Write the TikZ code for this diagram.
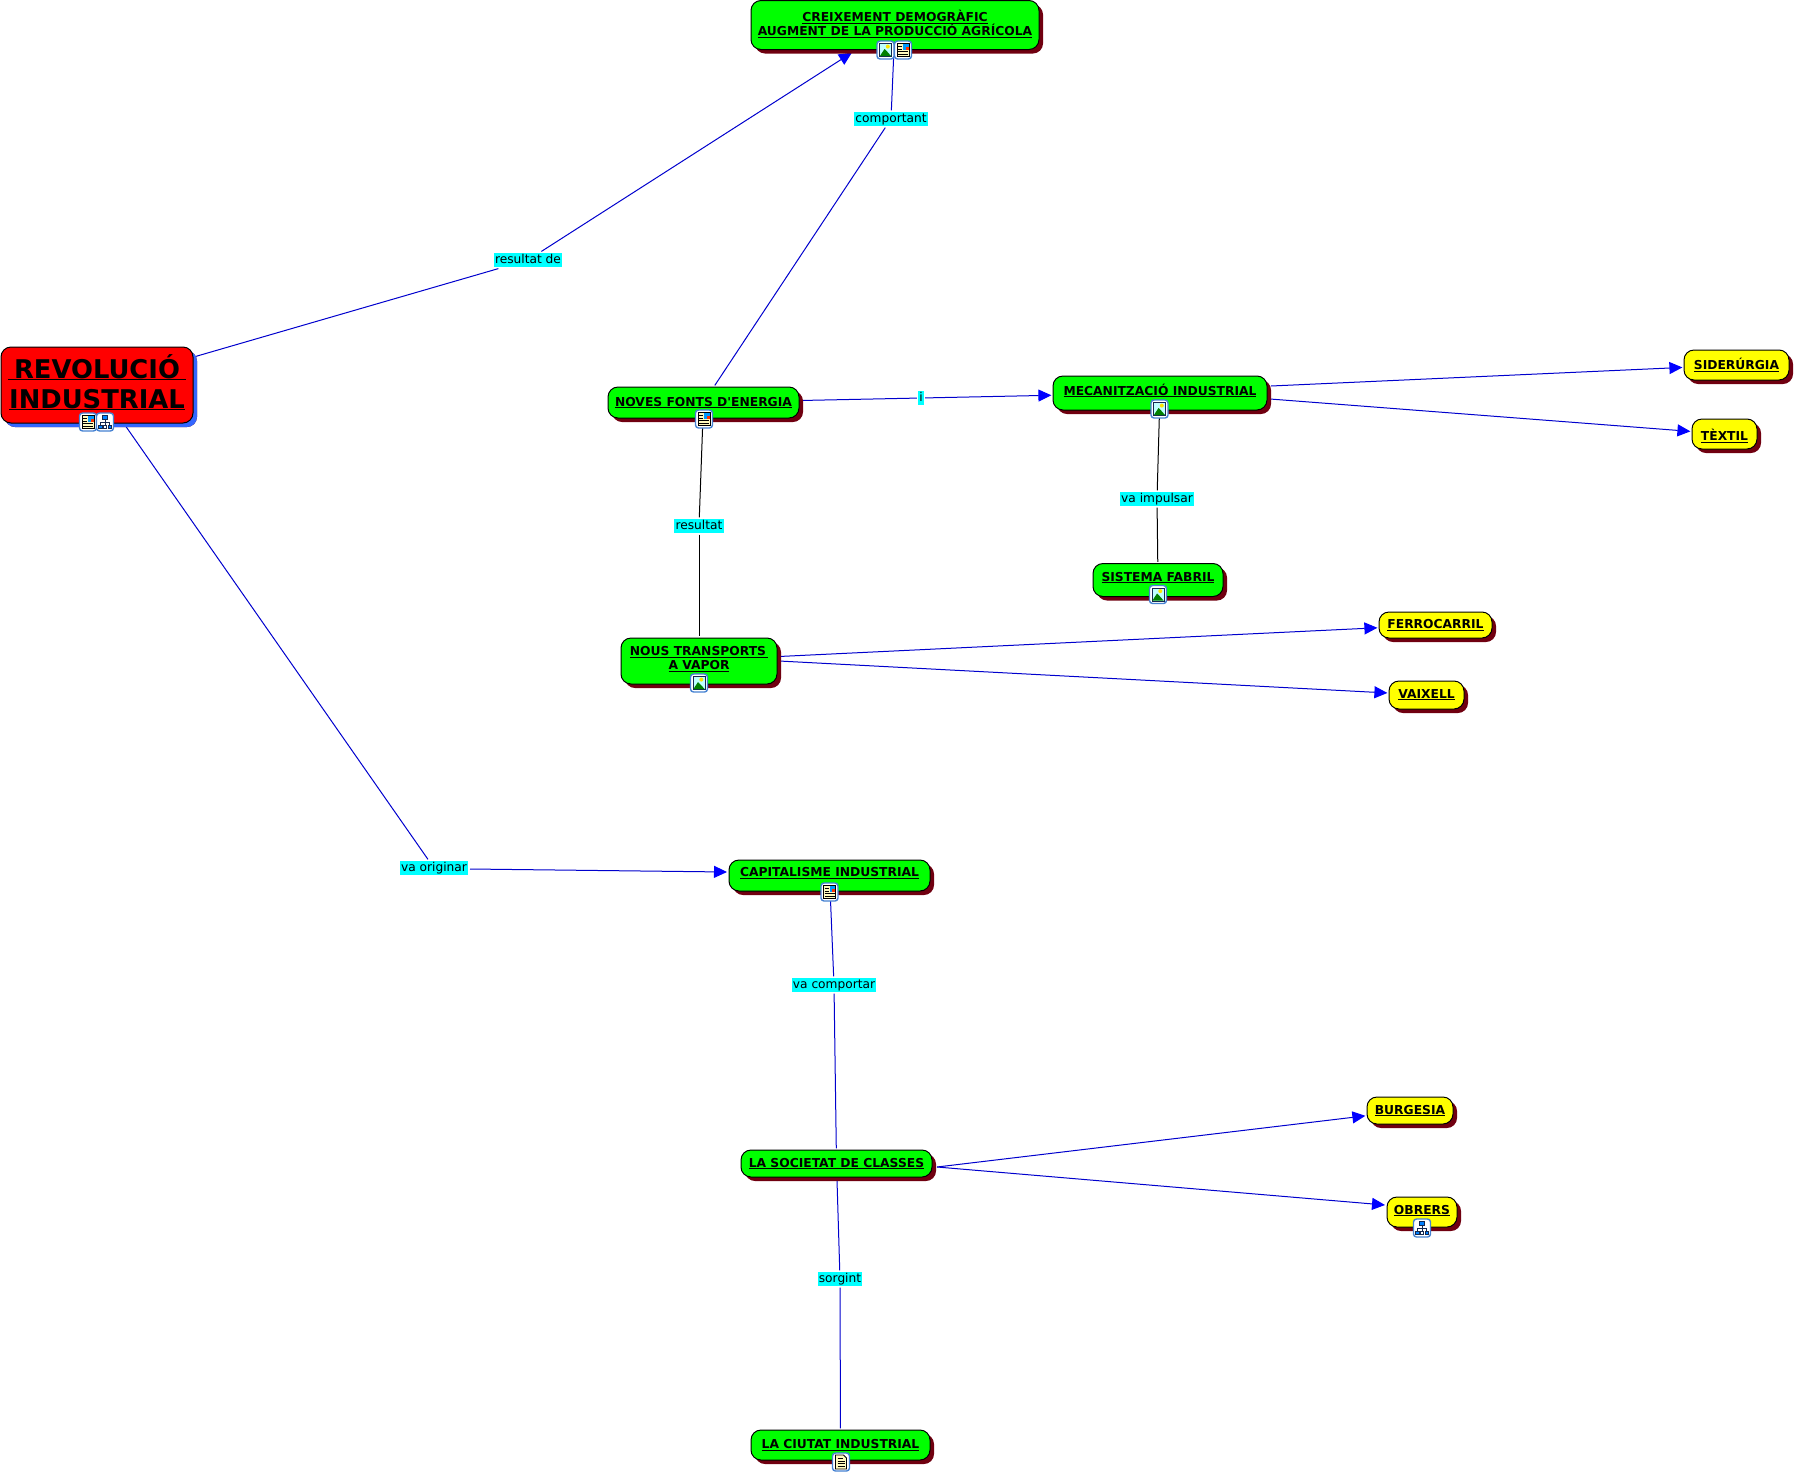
\documentclass[tikz,border=0pt]{standalone}
\usepackage{fontspec}
\setmainfont{DejaVu Sans}[Ligatures=TeXOff]
\usetikzlibrary{arrows.meta,shadows,backgrounds}
\definecolor{shred}{RGB}{112,0,16}
\definecolor{shblue}{RGB}{51,102,255}
\definecolor{lnblue}{RGB}{0,0,205}
\definecolor{arrblue}{RGB}{0,0,255}
\definecolor{icoedge}{RGB}{70,130,210}
\definecolor{icodark}{RGB}{20,40,80}
\definecolor{paper}{RGB}{255,250,190}
\definecolor{cred}{RGB}{255,0,0}
\definecolor{cgreen}{RGB}{0,255,0}
\definecolor{cyellow}{RGB}{255,255,0}
\definecolor{ccyan}{RGB}{0,255,255}
\tikzset{
  x=0.5pt,y=-0.5pt,
  box/.style={draw=black,line width=0.5pt,rounded corners=5pt,inner sep=0pt,outer sep=0.8pt,align=center,
     font=\fontsize{6.15}{7}\selectfont\bfseries,
     general shadow={fill=shred,shadow xshift=2pt,shadow yshift=-2pt}},
  main/.style={box,fill=cred,font=\fontsize{12.9}{15}\selectfont\bfseries,
     general shadow={fill=shblue,shadow xshift=2pt,shadow yshift=-2pt}},
  green box/.style={box,fill=cgreen},
  yellow box/.style={box,fill=cyellow},
  linkword/.style={fill=ccyan,inner sep=0.6pt,font=\fontsize{6.1}{7}\selectfont,text height=4.9pt,text depth=1.3pt,outer sep=0.6pt},
  bluelink/.style={draw=lnblue,line width=0.5pt},
  blacklink/.style={draw=black,line width=0.5pt},
  arrowlink/.style={bluelink,-{Triangle[length=6.5pt,width=6pt,fill=arrblue,color=arrblue]}},
  icobase/.style={draw=icoedge,line width=0.7pt,fill=white,rounded corners=1.5pt},
  pics/icondoc/.style={code={
    \draw[icobase](-8.5,-9) rectangle (8.5,9);
    \draw[black,fill=paper,line width=0.4pt](-6,-6.5) rectangle (6,6.5);
    \fill[ccyan!60!blue](0,-6) rectangle (5.5,-0.5);
    \fill[red!60!orange](2.5,-3.5) rectangle (5.5,-0.5);
    \draw[black,line width=0.4pt](-5,-3.5)--(-1,-3.5)(-5,-1)--(-1,-1)(-5,1.5)--(5,1.5)(-5,4)--(5,4);}},
  pics/iconland/.style={code={
    \draw[icobase](-8.5,-9) rectangle (8.5,9);
    \draw[icodark,fill=ccyan!25,line width=0.5pt](-6,-6.5) rectangle (6,6.5);
    \fill[cyellow!80!orange](2.3,-3.4) circle (2);
    \fill[green!50!black](-5.7,6.2)--(-1,-1)--(2,2)--(5.7,6.2)--cycle;}},
  pics/icontree/.style={code={
    \draw[icobase](-8.5,-9) rectangle (8.5,9);
    \draw[icodark,line width=0.4pt](0,-3)--(0,4)(-4.5,4)--(-4.5,0.5)--(4.5,0.5)--(4.5,4);
    \draw[icodark,fill=blue!50!ccyan,line width=0.4pt](-2.8,-7) rectangle (2.8,-3);
    \draw[icodark,fill=blue!50!ccyan,line width=0.4pt](-6.6,3) rectangle (-3,6.8);
    \draw[icodark,fill=white,line width=0.4pt](-1.8,3) rectangle (1.8,6.8);
    \draw[icodark,fill=blue!50!ccyan,line width=0.4pt](3,3) rectangle (6.6,6.8);}},
  pics/icontext/.style={code={
    \draw[icobase](-8.5,-9) rectangle (8.5,9);
    \draw[black,fill=paper,line width=0.4pt](-5.5,-7)--(2.5,-7)--(5.5,-4)--(5.5,7)--(-5.5,7)--cycle;
    \draw[black,line width=0.35pt](-3.5,-3.5)--(1.5,-3.5)(-3.5,-1)--(3.5,-1)(-3.5,1.5)--(3.5,1.5)(-3.5,4)--(3.5,4);}},
}
\newcommand{\ul}[1]{\setbox0\hbox{#1}\leavevmode\rlap{\rule[-1pt]{\wd0}{0.5pt}}\box0}
\newcommand{\ulbig}[1]{\setbox0\hbox{#1}\leavevmode\rlap{\rule[-0.9pt]{\wd0}{0.6pt}}\box0}
% invisible strut: extra depth lifts the text inside its box, extra height lowers it
\newcommand{\dpt}[1]{\rule[-#1]{0pt}{#1}}
\newcommand{\htt}[1]{\rule{0pt}{#1}}
\begin{document}
\begin{tikzpicture}
\useasboundingbox (0,0) rectangle (1796,1473);
% concepts
\node[main,minimum width=96pt,minimum height=38pt] (revo) at (97,385) {\ulbig{\kern3pt REVOLUCIÓ\kern3pt}\\\ulbig{INDUSTRIAL}\dpt{3.5pt}};
\node[green box,minimum width=144pt,minimum height=24.5pt] (creix) at (895,25) {\ul{CREIXEMENT DEMOGRÀFIC}\\\ul{AUGMENT DE LA PRODUCCIÓ AGRÍCOLA}\dpt{2.15pt}};
\node[green box,minimum width=95.5pt,minimum height=15.5pt] (noves) at (703.5,402.5) {\ul{NOVES FONTS D'ENERGIA}};
\node[green box,minimum width=107pt,minimum height=17pt] (mecan) at (1160,393) {\ul{MECANITZACIÓ INDUSTRIAL}\dpt{3.3pt}};
\node[green box,minimum width=65pt,minimum height=16.5pt] (sistema) at (1158,580) {\ul{SISTEMA FABRIL}\dpt{3.3pt}};
\node[green box,minimum width=78pt,minimum height=23pt] (nous) at (699,661) {\ul{NOUS TRANSPORTS\,}\\\ul{A VAPOR}\dpt{2.7pt}};
\node[yellow box,minimum width=52.5pt,minimum height=15pt] (side) at (1736.5,365) {\ul{SIDERÚRGIA}};
\node[yellow box,minimum width=32.5pt,minimum height=15pt] (textil) at (1724.5,434) {\ul{TÈXTIL}\htt{7.6pt}};
\node[yellow box,minimum width=56.5pt,minimum height=13pt] (ferro) at (1435.5,625) {\ul{FERROCARRIL}};
\node[yellow box,minimum width=37.5pt,minimum height=14pt] (vaixell) at (1426.5,695) {\ul{VAIXELL}};
\node[green box,minimum width=100.5pt,minimum height=15.5pt] (capital) at (829.5,875.5) {\ul{CAPITALISME INDUSTRIAL}\dpt{3.3pt}};
\node[green box,minimum width=95.5pt,minimum height=13.5pt] (societat) at (836.5,1163.5) {\ul{LA SOCIETAT DE CLASSES}};
\node[yellow box,minimum width=43pt,minimum height=13.5pt] (burgesia) at (1410,1110.5) {\ul{BURGESIA}};
\node[yellow box,minimum width=35pt,minimum height=15pt] (obrers) at (1422,1212) {\ul{OBRERS}\dpt{2.15pt}};
\node[green box,minimum width=89.5pt,minimum height=15pt] (ciutat) at (840.5,1445) {\ul{LA CIUTAT INDUSTRIAL}};
% link words
\node[linkword] (lresde) at (528,260) {resultat de};
\node[linkword] (lcomp) at (891,119) {comportant};
\node[linkword] (li) at (921,398) {i};
\node[linkword] (limp) at (1157,499) {va impulsar};
\node[linkword] (lres) at (699,526) {resultat};
\node[linkword] (lorig) at (434,868) {va originar};
\node[linkword] (lvac) at (834,985) {va comportar};
\node[linkword] (lsorg) at (840,1279) {sorgint};
\coordinate (socr) at (937,1167);
\coordinate (nousa) at (779,656.5);
\coordinate (nousb) at (779,661);
\coordinate (mecana) at (1271,386);
\coordinate (mecanb) at (1270,399);
\coordinate (origr) at (470,869);
\coordinate (capl) at (727,872);
\coordinate (obrl) at (1385,1205);
% connectors
\begin{scope}[on background layer]
\draw[bluelink] (revo) -- (lresde);
\draw[arrowlink,shorten >=1.4pt] (lresde) -- (creix);
\draw[bluelink] (creix) -- (lcomp);
\draw[bluelink] (lcomp) -- (noves);
\draw[bluelink] (noves) -- (li);
\draw[arrowlink] (li) -- (mecan);
\draw[arrowlink] (mecana) -- (side);
\draw[arrowlink] (mecanb) -- (textil);
\draw[blacklink] (mecan) -- (limp);
\draw[blacklink] (limp) -- (sistema);
\draw[blacklink] (noves) -- (lres);
\draw[blacklink] (lres) -- (nous);
\draw[arrowlink] (nousa) -- (ferro);
\draw[arrowlink] (nousb) -- (vaixell);
\draw[bluelink] (revo) -- (lorig);
\draw[arrowlink] (origr) -- (capl);
\draw[bluelink] (capital) -- (lvac);
\draw[bluelink] (lvac) -- (societat);
\draw[arrowlink] (socr) -- (burgesia);
\draw[arrowlink] (socr) -- (obrl);
\draw[bluelink] (societat) -- (lsorg);
\draw[bluelink] (lsorg) -- (ciutat);
\end{scope}
% resource icons
\pic at (88,422) {icondoc};
\pic at (105,422) {icontree};
\pic at (885.5,50) {iconland};
\pic at (903,50) {icondoc};
\pic at (704,419) {icondoc};
\pic at (1159.5,409) {iconland};
\pic at (1158,594.5) {iconland};
\pic at (699,683) {iconland};
\pic at (829.5,892) {icondoc};
\pic at (1422,1228) {icontree};
\pic at (841,1462) {icontext};
\end{tikzpicture}
\end{document}
